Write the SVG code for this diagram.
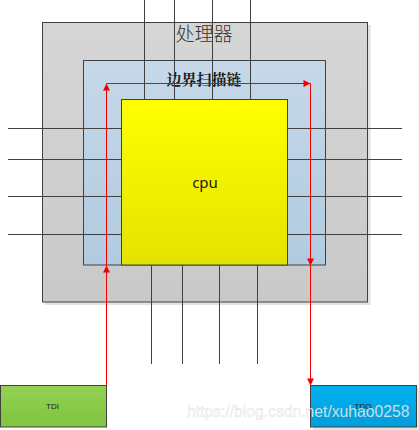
<svg xmlns="http://www.w3.org/2000/svg" width="419" height="430" viewBox="0 0 419 430">
<style>
.box{stroke:#404040;stroke-width:1}
.pin{stroke:#404040;stroke-width:1;fill:none}
.red{stroke:#f00000;stroke-width:1;fill:none;marker-end:url(#ah)}
.sm{font-family:"Liberation Sans",Arial,sans-serif;font-size:8px;fill:#1a1a1a;text-anchor:middle}
</style>
<defs>
<linearGradient id="gGray" x1="0" y1="0" x2="0" y2="1"><stop offset="0" stop-color="#d6d6d6"/><stop offset="1" stop-color="#c9c9c9"/></linearGradient>
<linearGradient id="gBlue" x1="0" y1="0" x2="0" y2="1"><stop offset="0" stop-color="#c6d8e8"/><stop offset="1" stop-color="#b1cbe0"/></linearGradient>
<linearGradient id="gYel" x1="0" y1="0" x2="0" y2="1"><stop offset="0" stop-color="#ffff00"/><stop offset="1" stop-color="#e3e300"/></linearGradient>
<linearGradient id="gGreen" x1="0" y1="0" x2="0" y2="1"><stop offset="0" stop-color="#94d152"/><stop offset="1" stop-color="#7fc440"/></linearGradient>
<linearGradient id="gCyan" x1="0" y1="0" x2="0" y2="1"><stop offset="0" stop-color="#00b2f0"/><stop offset="1" stop-color="#009ddc"/></linearGradient>
<marker id="ah" viewBox="0 0 10 10" refX="10" refY="5" markerUnits="userSpaceOnUse" markerWidth="9" markerHeight="7" orient="auto"><path d="M0,0 L10,5 L0,10 z" fill="#f00000"/></marker>
</defs>
<rect x="0" y="0" width="419" height="430" fill="#ffffff"/>
<g id="processor">
<rect x="44.5" y="25" width="326" height="280" fill="#e2e2e2"/>
<rect class="box" x="42.5" y="22.5" width="325" height="279.5" fill="url(#gGray)"/>
<text x="204" y="41" font-family="'Noto Sans CJK SC',sans-serif" font-weight="300" font-size="19" fill="#333333" text-anchor="middle">处理器</text>
</g>
<g id="scanchain">
<rect class="box" x="83.5" y="60.5" width="242" height="204.5" fill="url(#gBlue)"/>
<text x="204" y="85" font-family="'Noto Serif CJK SC','Noto Sans CJK SC',serif" font-weight="bold" font-size="15" fill="#1a1a1a" text-anchor="middle">边界扫描链</text>
</g>
<g id="cpu">
<rect class="box" x="121.5" y="99.5" width="166" height="165.5" fill="url(#gYel)"/>
<text x="205" y="188" font-family="'Noto Sans','Open Sans',sans-serif" font-size="15" fill="#1a1a1a" text-anchor="middle">cpu</text>
</g>
<g id="tdi">
<rect class="box" x="0.5" y="385.5" width="106" height="41.5" fill="url(#gGreen)"/>
<text class="sm" x="52.5" y="409">TDI</text>
</g>
<g id="tdo">
<rect x="313" y="388" width="106" height="42" fill="#e6e6e6"/>
<rect class="box" x="310.5" y="385.5" width="106" height="41.5" fill="url(#gCyan)"/>
<text class="sm" x="363" y="409">TDO</text>
</g>
<g id="connectors">
<g id="pins">
<line class="pin" x1="144.5" y1="0" x2="144.5" y2="99.5"/>
<line class="pin" x1="174.5" y1="0" x2="174.5" y2="99.5"/>
<line class="pin" x1="212.5" y1="0" x2="212.5" y2="99.5"/>
<line class="pin" x1="250.5" y1="0" x2="250.5" y2="99.5"/>
<line class="pin" x1="8" y1="128.5" x2="121.5" y2="128.5"/>
<line class="pin" x1="8" y1="159.5" x2="121.5" y2="159.5"/>
<line class="pin" x1="8" y1="196.5" x2="121.5" y2="196.5"/>
<line class="pin" x1="8" y1="234.5" x2="121.5" y2="234.5"/>
<line class="pin" x1="287.5" y1="128.5" x2="402" y2="128.5"/>
<line class="pin" x1="287.5" y1="159.5" x2="402" y2="159.5"/>
<line class="pin" x1="287.5" y1="196.5" x2="402" y2="196.5"/>
<line class="pin" x1="287.5" y1="234.5" x2="402" y2="234.5"/>
<line class="pin" x1="151.5" y1="265" x2="151.5" y2="364"/>
<line class="pin" x1="182.5" y1="265" x2="182.5" y2="364"/>
<line class="pin" x1="219.5" y1="265" x2="219.5" y2="364"/>
<line class="pin" x1="257.5" y1="265" x2="257.5" y2="364"/>
</g>
<g id="scanpath">
<line class="red" x1="106.5" y1="385.5" x2="106.5" y2="265.5"/>
<line class="red" x1="106.5" y1="265.5" x2="106.5" y2="83.5"/>
<line class="red" x1="106.5" y1="83.5" x2="310.5" y2="83.5"/>
<line class="red" x1="310.5" y1="83.5" x2="310.5" y2="265.5"/>
<line class="red" x1="310.5" y1="265.5" x2="310.5" y2="385.5"/>
</g>
</g>
<text x="187" y="416.5" font-family="'Liberation Sans',Arial,sans-serif" font-size="15.7" fill="#ffffff" fill-opacity="0.8" stroke="#888888" stroke-opacity="0.25" stroke-width="0.6">https://blog.csdn.net/xuhao0258</text>
</svg>
